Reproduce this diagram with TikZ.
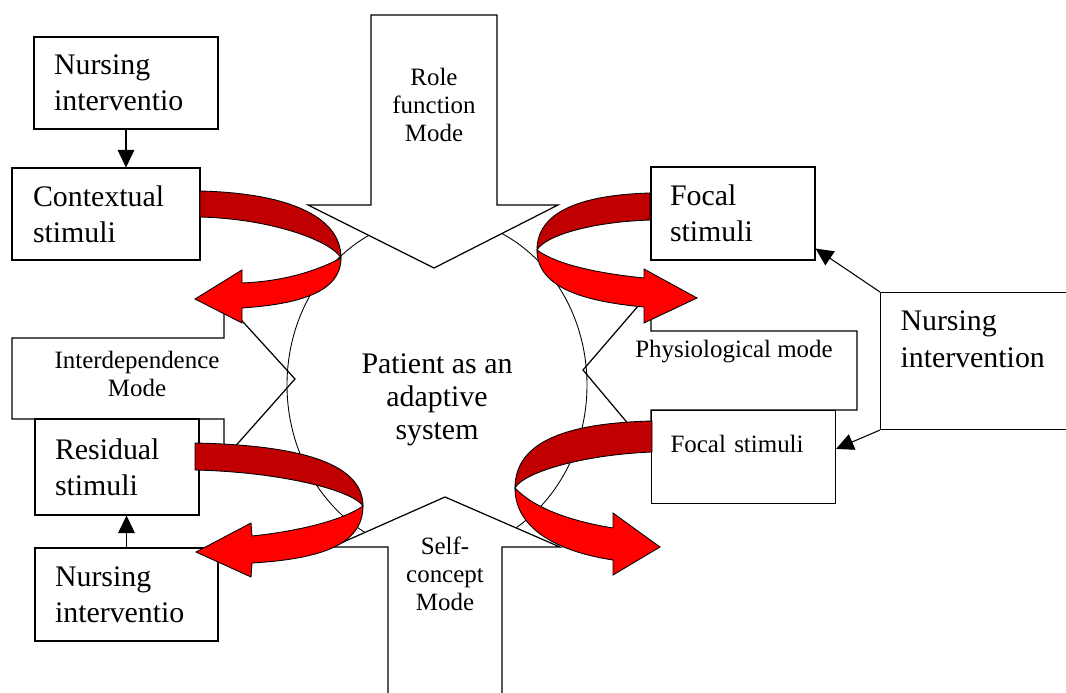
\documentclass[tikz,border=0pt]{standalone}
\usepackage{fontspec}
\setmainfont{Liberation Serif}
\usetikzlibrary{positioning,arrows.meta}
\definecolor{ribdark}{RGB}{192,0,0}
\definecolor{ribred}{RGB}{255,0,0}
\newcommand{\bigtxt}{\fontsize{17}{20.4}\selectfont}
\newcommand{\modetxt}{\fontsize{14.2}{15.9}\selectfont}
\newcommand{\midtxt}{\fontsize{17}{18.7}\selectfont}

\begin{document}
\begin{tikzpicture}[x=0.02cm, y=-0.02cm,
			% box round a stimulus or an intervention
			stimbox/.style={draw, rectangle, line width=0.6pt, inner sep=0pt, font=\bigtxt},
			% white block arrow of a mode
			modearrow/.style={draw, fill=white, line width=0.7pt},
			modelabel/.style={align=center, font=\modetxt, inner sep=0pt},
			% back and front side of a red ribbon
			ribback/.style={draw, fill=ribdark, line width=0.5pt},
			ribfront/.style={draw, fill=ribred, line width=0.5pt},
			arr/.style={-{Triangle[length=10pt,width=9.5pt]}, line width=0.6pt}
		]
		\useasboundingbox (0,0) rectangle (1066,693);
		\clip (0,0) rectangle (1066,693);

		% side modes first, the circle shows through their heads
		\draw[modearrow] (12,338) -- (224,338) -- (224,301) -- (295,379) -- (224,459) -- (224,419) -- (12,419) -- cycle;
		\draw[modearrow] (857,331) -- (651,331) -- (651,291) -- (583,370) -- (651,451) -- (651,410) -- (857,410) -- cycle;
		\draw[line width=0.5pt] (437,385) ellipse [x radius=150, y radius=168];
		\draw[modearrow] (371,15) -- (497,15) -- (497,205) -- (558,205) -- (434,268) -- (308,205) -- (371,205) -- cycle;
		\draw[modearrow] (388,710) -- (388,547) -- (332,547) -- (445,497) -- (560,547) -- (502,547) -- (502,710) -- cycle;

		%Nodes
		\node[modelabel]                    (role)      at (434,105)    {Role\\function\\Mode};
		\node[modelabel]                    (selfc)     at (445,574)    {Self-\\concept\\Mode};
		\node[modelabel]                    (inter)     at (137,374)    {Interdependence\\Mode};
		\node[modelabel]                    (physio)    at (734,352)    {Physiological mode};
		\node[align=center, font=\midtxt]   (patient)   at (437,400)    {Patient as an\\adaptive\\system};

		\node[stimbox, align=left, minimum width=3.68cm, minimum height=1.84cm, text width=2.88cm]  (ni1)  at (126,83)    {Nursing\\interventio};
		\node[stimbox, align=left, minimum width=3.76cm, minimum height=1.84cm, text width=2.92cm]  (ctx)  at (106,214)   {Contextual\\stimuli};
		\node[stimbox, align=left, minimum width=3.28cm, minimum height=1.92cm, text width=2.48cm]  (res)  at (117,467)   {Residual\\stimuli};
		\node[stimbox, align=left, minimum width=3.66cm, minimum height=1.86cm, text width=2.86cm]  (ni2)  at (126.5,594.5) {Nursing\\interventio};
		\node[stimbox, align=left, minimum width=3.28cm, minimum height=1.86cm, text width=2.52cm]  (fs1)  at (733,213.5) {Focal\\stimuli};
		\node[stimbox, align=left, anchor=north west, inner xsep=0.38cm, text width=2.92cm,
			text height=0.84cm, text depth=1.02cm, font=\modetxt]                                   (fs2)  at (651,410)   {Focal stimuli};
		\node[stimbox, anchor=north west, inner xsep=0.4cm, text height=0.76cm, text depth=1.98cm]  (nir)  at (880,292)
			{\parbox[t]{3.4cm}{\fontsize{17}{21}\selectfont Nursing\\intervention}};

		%Lines
		\draw[arr] (ni1.south)          --  (ni1.south |- ctx.north);
		\draw[arr] (ni2.north)          --  (ni2.north |- res.south);
		\draw[arr] (nir.north west)     --  (fs1.-23);
		\draw[arr] (nir.south west)     --  (fs2.5);

		% red ribbons, back side then front side with its head
		\draw[ribback]  (200,191) .. controls (285,193) and (341,215) .. (341,258) .. controls (332,242) and (275,219) .. (200,217) -- cycle;
		\draw[ribfront] (341,258) .. controls (341,292) and (300,304) .. (242,308) -- (242,323) -- (195,299) -- (242,270) -- (242,283) .. controls (290,281) and (322,268) .. (341,258) -- cycle;

		\draw[ribback]  (195,443) .. controls (290,445) and (363,460) .. (363,506) .. controls (352,490) and (280,472) .. (195,470) -- cycle;
		\draw[ribfront] (363,506) .. controls (363,545) and (320,559) .. (252,563) -- (251,577) -- (196,552) -- (251,523) -- (252,536) .. controls (300,531) and (343,520) .. (363,506) -- cycle;

		\draw[ribback]  (650,193) .. controls (580,195) and (537,212) .. (537,250) .. controls (545,236) and (590,222) .. (650,220) -- cycle;
		\draw[ribfront] (537,250) .. controls (537,290) and (590,302) .. (644,307) -- (644,323) -- (697,298) -- (644,269) -- (644,278) .. controls (595,273) and (556,264) .. (537,250) -- cycle;

		\draw[ribback]  (652,421) .. controls (570,423) and (515,440) .. (515,488) .. controls (523,473) and (580,455) .. (652,452) -- cycle;
		\draw[ribfront] (515,488) .. controls (515,530) and (560,552) .. (613,560) -- (613,575) -- (660,547) -- (613,513) -- (613,528) .. controls (570,521) and (534,508) .. (515,488) -- cycle;
	\end{tikzpicture}
\end{document}
